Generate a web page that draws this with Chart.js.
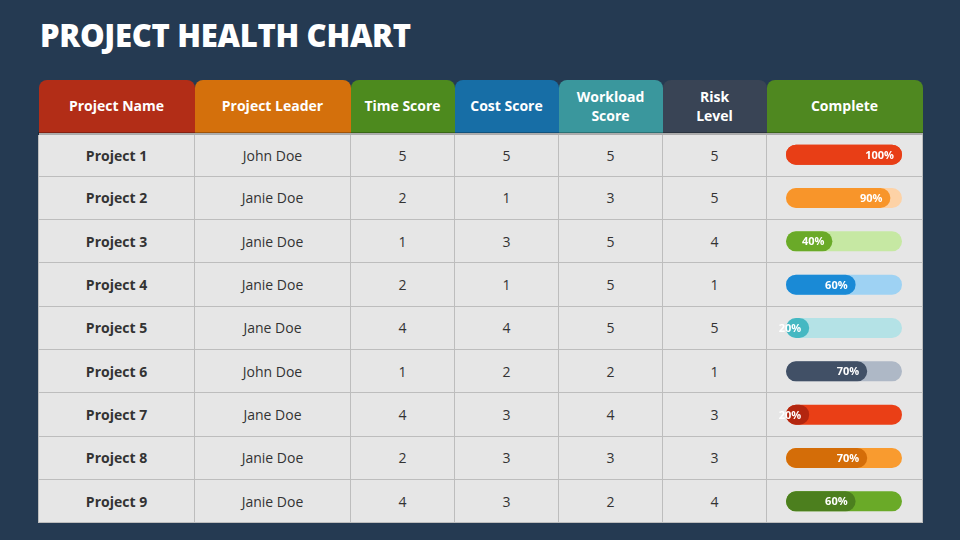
<!DOCTYPE html>
<html>
<head>
<meta charset="utf-8">
<script src="https://cdn.jsdelivr.net/npm/chart.js@4"></script>
<style>
  body { margin: 0; width: 960px; height: 540px; background: #253a52; font-family: "Open Sans", Lato, sans-serif; position: relative; overflow: hidden; }
  h1 { position: absolute; left: 40px; top: 14px; margin: 0; color: #fff; font-size: 31px; font-weight: 800; letter-spacing: -0.3px; }
  table { position: absolute; left: 38px; top: 80px; border-collapse: collapse; table-layout: fixed; }
  th { height: 53px; color: #fff; font-size: 14px; font-weight: 700; padding: 0; border-radius: 8px 8px 0 0; border-bottom: 3px solid rgba(0,0,0,0.25); box-sizing: border-box; line-height: 19px; }
  td { height: 43.3px; padding: 0; text-align: center; font-size: 14px; color: #333; background: #e6e6e6; border: 1px solid #bdbdbd; box-sizing: border-box; }
  td.name { font-weight: 700; }
  #wrap { position: absolute; left: 766px; top: 133px; width: 156px; height: 390px; }
</style>
</head>
<body>
<h1>PROJECT HEALTH CHART</h1>
<table id="tbl"></table>
<div id="wrap"><canvas id="completeChart"></canvas></div>
<script>
const headers = ['Project Name', 'Project Leader', 'Time Score', 'Cost Score', 'Workload<br>Score', 'Risk<br>Level', 'Complete'];
const headerColors = ['#b22d17', '#d4700c', '#4d8a1e', '#176ea6', '#3a979d', '#394455', '#4f8820'];
const colWidths = [156, 156, 104, 104, 104, 104, 156];
const projects = ['Project 1', 'Project 2', 'Project 3', 'Project 4', 'Project 5', 'Project 6', 'Project 7', 'Project 8', 'Project 9'];
const leaders = ['John Doe', 'Janie Doe', 'Janie Doe', 'Janie Doe', 'Jane Doe', 'John Doe', 'Jane Doe', 'Janie Doe', 'Janie Doe'];
const timeScores = [5, 2, 1, 2, 4, 1, 4, 2, 4];
const costScores = [5, 1, 3, 1, 4, 2, 3, 3, 3];
const workloadScores = [5, 3, 5, 5, 5, 2, 4, 3, 2];
const riskLevels = [5, 5, 4, 1, 5, 1, 3, 3, 4];
const complete = [100, 90, 40, 60, 20, 70, 20, 70, 60];
const fillColors = ['#e83e16', '#f8952a', '#6aaa28', '#1a8ad6', '#45b8c2', '#415066', '#b3260f', '#d46d08', '#4c7f1e'];
const trackColors = ['#e83e16', '#fdd2a6', '#c6e8a3', '#9ed2f3', '#b4e2e6', '#aeb8c6', '#ea3f16', '#f99b2f', '#6aaa28'];

const tbl = document.getElementById('tbl');
let html = '<tr>';
headers.forEach((h, i) => {
  html += `<th style="width:${colWidths[i]}px;background:${headerColors[i]}">${h}</th>`;
});
html += '</tr>';
projects.forEach((p, i) => {
  html += `<tr><td class="name">${p}</td><td>${leaders[i]}</td><td>${timeScores[i]}</td><td>${costScores[i]}</td><td>${workloadScores[i]}</td><td>${riskLevels[i]}</td><td></td></tr>`;
});
tbl.innerHTML = html;

const labelPlugin = {
  id: 'pctLabels',
  afterDatasetsDraw(chart) {
    const ctx = chart.ctx;
    const meta = chart.getDatasetMeta(1);
    ctx.save();
    ctx.font = 'bold 11px "Open Sans", sans-serif';
    ctx.fillStyle = '#fff';
    ctx.textAlign = 'right';
    ctx.textBaseline = 'middle';
    meta.data.forEach((bar, i) => {
      ctx.fillText(complete[i] + '%', bar.x - 8, bar.y + 1);
    });
    ctx.restore();
  }
};

new Chart(document.getElementById('completeChart'), {
  type: 'bar',
  data: {
    labels: projects,
    datasets: [
      { data: projects.map(() => 100), backgroundColor: trackColors, borderRadius: 10, borderSkipped: false, grouped: false, barPercentage: 0.46, categoryPercentage: 1, order: 2 },
      { data: complete, backgroundColor: fillColors, borderRadius: 10, borderSkipped: false, grouped: false, barPercentage: 0.46, categoryPercentage: 1, order: 1 }
    ]
  },
  options: {
    indexAxis: 'y',
    responsive: true,
    maintainAspectRatio: false,
    animation: false,
    layout: { padding: { left: 20, right: 20, top: 0, bottom: 0 } },
    scales: {
      x: { display: false, min: 0, max: 100 },
      y: { display: false }
    },
    plugins: { legend: { display: false }, tooltip: { enabled: false } }
  },
  plugins: [labelPlugin]
});
</script>
</body>
</html>
